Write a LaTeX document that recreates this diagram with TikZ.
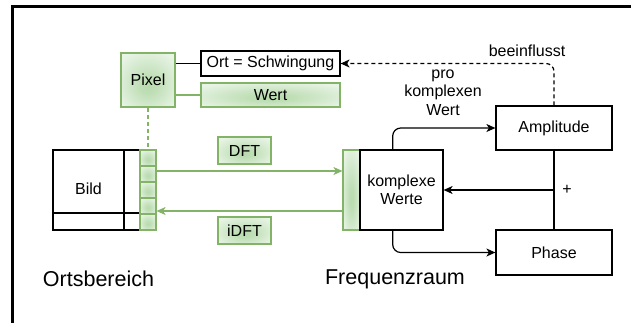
\documentclass[tikz,border=0pt]{standalone}
\usepackage{fontspec}
\setmainfont{Liberation Sans}
\usetikzlibrary{arrows.meta,calc}
\definecolor{gstroke}{HTML}{82B366}
\definecolor{gin}{HTML}{B8DBAE}
\definecolor{gout}{HTML}{E8F4E5}
\pgfdeclareradialshading{glow}{\pgfpoint{0bp}{-6bp}}{color(0bp)=(gin); color(8bp)=(gin!85!gout); color(32bp)=(gout); color(50bp)=(gout)}
\tikzset{
  txt/.style={font=\fontsize{16}{18.5}\selectfont},
  big/.style={font=\fontsize{21.5}{24}\selectfont},
  gbox/.style={draw=gstroke, line width=1.2pt, shading=glow, inner sep=0pt, txt},
  wbox/.style={draw=black, line width=1.2pt, fill=white, inner sep=0pt, txt},
  bline/.style={draw=black, line width=1.2pt},
  gline/.style={draw=gstroke, line width=1.2pt},
  barrow/.style={bline, -{Stealth[length=9pt,width=8pt,inset=2.5pt]}},
  garrow/.style={gline, -{Stealth[length=9pt,width=8pt,inset=2.5pt]}},
}
\begin{document}
\begin{tikzpicture}[x=1pt,y=-1pt]
\useasboundingbox (0,0) rectangle (631,322);
% frame
\draw[line width=2.6pt] (12.5,340) -- (12.5,6.5) -- (650,6.5);

% Pixel part
\node[gbox, minimum width=54pt, minimum height=54pt] (pixel) at (148,80) {Pixel};
\node[wbox, minimum width=139pt, minimum height=25pt] (ort) at (270.5,63.5) {Ort = Schwingung};
\node[gbox, minimum width=139pt, minimum height=24pt] (wert) at (270.5,95) {Wert};
\draw[bline] (pixel.east |- ort.west) -- (ort.west);
\draw[gline] (pixel.east |- wert.west) -- (wert.west);

% Bild
\node[draw=black, line width=1.2pt, minimum width=87pt, minimum height=80pt, inner sep=0pt] (bild) at (96.5,190) {};
\draw[bline] (124,150) -- (124,230);
\draw[bline] (bild.west |- 0,213) -- (bild.east |- 0,213);
\node[txt] (bildlbl) at (88.5,189) {Bild};
\foreach \i/\y in {1/158,2/174,3/190,4/206,5/222}{
  \node[gbox, minimum width=16pt, minimum height=16pt] (c\i) at (148,\y) {};
}
\draw[gline, dashed, dash pattern=on 4pt off 3pt] (pixel.south) -- (c1.north);

% DFT / iDFT
\node[gbox, minimum width=53pt, minimum height=27pt] (dft) at (244.5,150.5) {DFT};
\node[gbox, minimum width=53pt, minimum height=27pt] (idft) at (244.5,230.5) {iDFT};

% Frequenzraum
\node[gbox, minimum width=17pt, minimum height=80pt] (bar) at (351.5,190) {};
\node[wbox, minimum width=83pt, minimum height=80pt, align=center] (kw) at (401.5,190) {komplexe\\Werte};
\draw[garrow] (c2.east |- 0,171) -- (bar.west |- 0,171);
\draw[garrow] (bar.west |- 0,211) -- (c4.east |- 0,211);

\node[wbox, minimum width=116pt, minimum height=44pt] (amp) at (554,128) {Amplitude};
\node[wbox, minimum width=116pt, minimum height=45pt] (phase) at (554,252.5) {Phase};

\draw[barrow, rounded corners=8pt] ([xshift=-8.8pt]kw.north) |- (amp.west);
\draw[barrow, rounded corners=8pt] ([xshift=-8.8pt]kw.south) |- (phase.west);
\draw[bline] (amp.south) -- (phase.north);
\draw[barrow] (amp.south |- kw.east) -- (kw.east);
\node[txt] (plus) at (567,190) {+};

\draw[barrow, dashed, dash pattern=on 4pt off 3pt, rounded corners=8pt] (amp.north) |- (ort.east);
\node[txt] (beein) at (527,50.5) {beeinflusst};
\node[txt, align=center] (pro) at (443,92.5) {pro\\komplexen\\Wert};

\node[big] (orts) at (98.5,279) {Ortsbereich};
\node[big] (freq) at (395,279) {Frequenzraum};
\end{tikzpicture}
\end{document}
